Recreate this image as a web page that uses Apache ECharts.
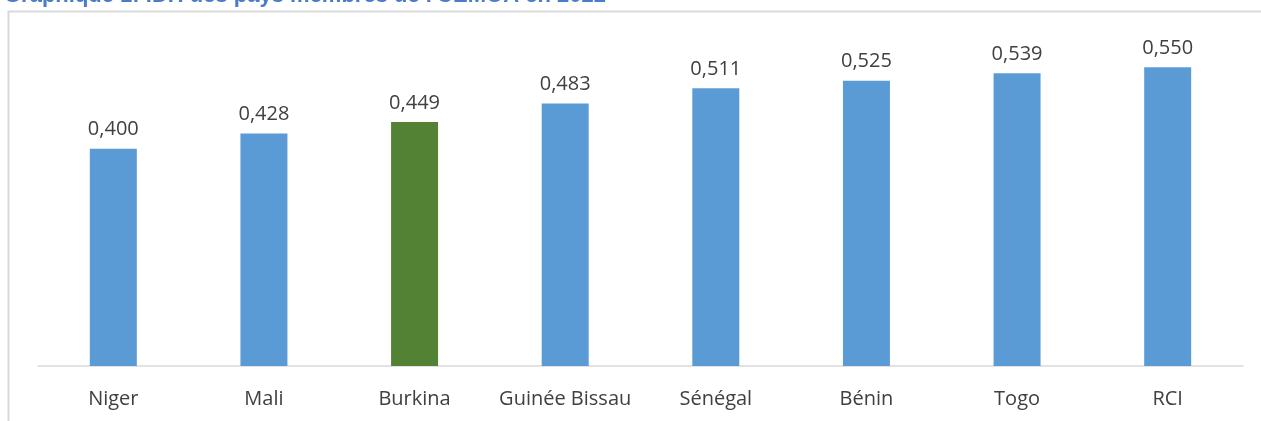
<!DOCTYPE html>
<html>
<head>
<meta charset="utf-8">
<script src="https://cdn.jsdelivr.net/npm/echarts@6/dist/echarts.min.js"></script>
<style>
    html, body { margin:0; padding:0; background:#fff; }
    #main { width:1261px; height:421px; }
</style>
</head>
<body>
<div id="main"></div>
<script>
// pays de l'UEMOA et IDH 2022
var pays = ['Niger', 'Mali', 'Burkina', 'Guinée Bissau', 'Sénégal', 'Bénin', 'Togo', 'RCI'];
var idh = [0.400, 0.428, 0.449, 0.483, 0.511, 0.525, 0.539, 0.550];
var paysEnVert = 'Burkina';

var myChart = echarts.init(document.getElementById('main'));

var barData = idh.map(function(v, i){
    return {
        value: v,
        itemStyle: { color: pays[i] == paysEnVert ? '#548235' : '#5B9BD5' }
    };
});

var option = {
    animation: false,
    title: {
        text: "Graphique 1: IDH des pays membres de l'UEMOA en 2022",
        left: -1,
        top: -20,
        textStyle: {
            color: '#4A7DC9',
            fontSize: 22,
            fontWeight: 'bold',
            fontFamily: 'Liberation Sans'
        }
    },
    graphic: [{
        type: 'rect',
        shape: { x: 8.5, y: 11.5, width: 1300, height: 500 },
        style: { fill: 'none', stroke: '#d9d9d9', lineWidth: 2 },
        z: -1
    }],
    grid: {
        left: 38,
        right: 18,
        top: 40,
        bottom: 55
    },
    xAxis: {
        type: 'category',
        data: pays,
        axisLine: { show: true, lineStyle: { color: '#d9d9d9', width: 1.5 } },
        axisTick: { show: false },
        axisLabel: {
            interval: 0,
            color: '#404040',
            fontSize: 20,
            fontFamily: 'Open Sans',
            margin: 23
        }
    },
    yAxis: {
        type: 'value',
        min: 0,
        max: 0.6,
        show: false,
        splitLine: { show: false }
    },
    series: [{
        type: 'bar',
        data: barData,
        barWidth: 47,
        label: {
            show: true,
            position: 'top',
            distance: 9,
            color: '#404040',
            fontSize: 20,
            fontFamily: 'Open Sans',
            formatter: function(p){
                return p.value.toFixed(3).replace('.', ',');
            }
        }
    }]
};
myChart.setOption(option);
</script>
</body>
</html>
